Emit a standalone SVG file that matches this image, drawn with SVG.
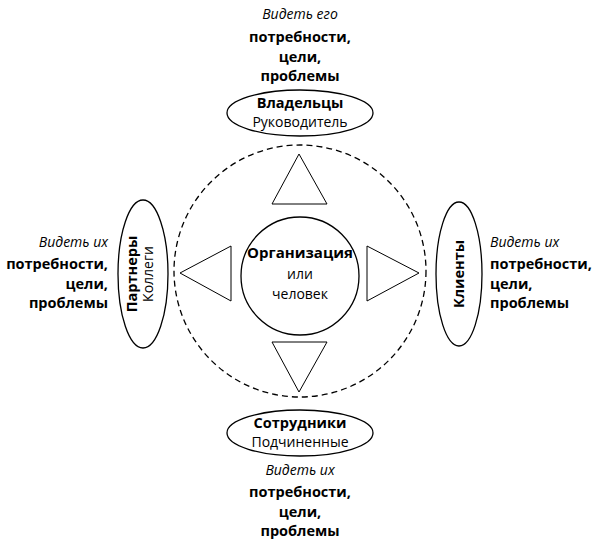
<svg xmlns="http://www.w3.org/2000/svg" width="597" height="545" viewBox="0 0 597 545">
<style>
.sh{fill:#fff;stroke:#000;stroke-width:1.3}
.tri{fill:#fff;stroke:#000;stroke-width:1}
text{font-family:"Open Sans","Noto Sans","Liberation Sans",sans-serif;fill:#000;font-size:14px}
.b{font-weight:bold;font-size:14.5px}
.i{font-style:italic;font-size:14px}
.m{text-anchor:middle}
.e{text-anchor:end}
</style>
<rect width="597" height="545" fill="#fff"/>
<g id="connectors">
<circle cx="300" cy="271" r="126" fill="none" stroke="#000" stroke-width="1.3" stroke-dasharray="6,4"/>
<polygon class="tri" points="299,154 327,204 272,204"/>
<polygon class="tri" points="272,342 327,342 299,392"/>
<polygon class="tri" points="180,273 231,246 231,301"/>
<polygon class="tri" points="419,273 367,246 367,301"/>
</g>
<g id="center">
<circle class="sh" cx="300" cy="276" r="59"/>
<text class="b m" x="300" y="258" style="font-size:15px">Организация</text>
<text class="m" x="300" y="279">или</text>
<text class="m" x="300" y="299">человек</text>
</g>
<g id="owners">
<ellipse class="sh" cx="300" cy="113" rx="73" ry="23"/>
<text class="b m" x="300" y="108">Владельцы</text>
<text class="m" x="300" y="127">Руководитель</text>
<text class="i m" x="300" y="19">Видеть его</text>
<text class="b m" x="300" y="42">потребности,</text>
<text class="b m" x="300" y="62">цели,</text>
<text class="b m" x="300" y="81">проблемы</text>
</g>
<g id="partners">
<ellipse class="sh" cx="143" cy="274" rx="25" ry="74"/>
<text class="b m" transform="translate(137,274) rotate(-90)">Партнеры</text>
<text class="m" transform="translate(153,274) rotate(-90)">Коллеги</text>
<text class="i e" x="108" y="247">Видеть их</text>
<text class="b e" x="108" y="269">потребности,</text>
<text class="b e" x="108" y="289">цели,</text>
<text class="b e" x="108" y="308">проблемы</text>
</g>
<g id="clients">
<ellipse class="sh" cx="459" cy="274" rx="23" ry="72"/>
<text class="b m" transform="translate(464,274) rotate(-90)">Клиенты</text>
<text class="i" x="490" y="247">Видеть их</text>
<text class="b" x="490" y="269">потребности,</text>
<text class="b" x="490" y="289">цели,</text>
<text class="b" x="490" y="308">проблемы</text>
</g>
<g id="employees">
<ellipse class="sh" cx="300" cy="433" rx="73" ry="23"/>
<text class="b m" x="300" y="428">Сотрудники</text>
<text class="m" x="300" y="447">Подчиненные</text>
<text class="i m" x="300" y="475">Видеть их</text>
<text class="b m" x="300" y="497">потребности,</text>
<text class="b m" x="300" y="517">цели,</text>
<text class="b m" x="300" y="536">проблемы</text>
</g>
</svg>
